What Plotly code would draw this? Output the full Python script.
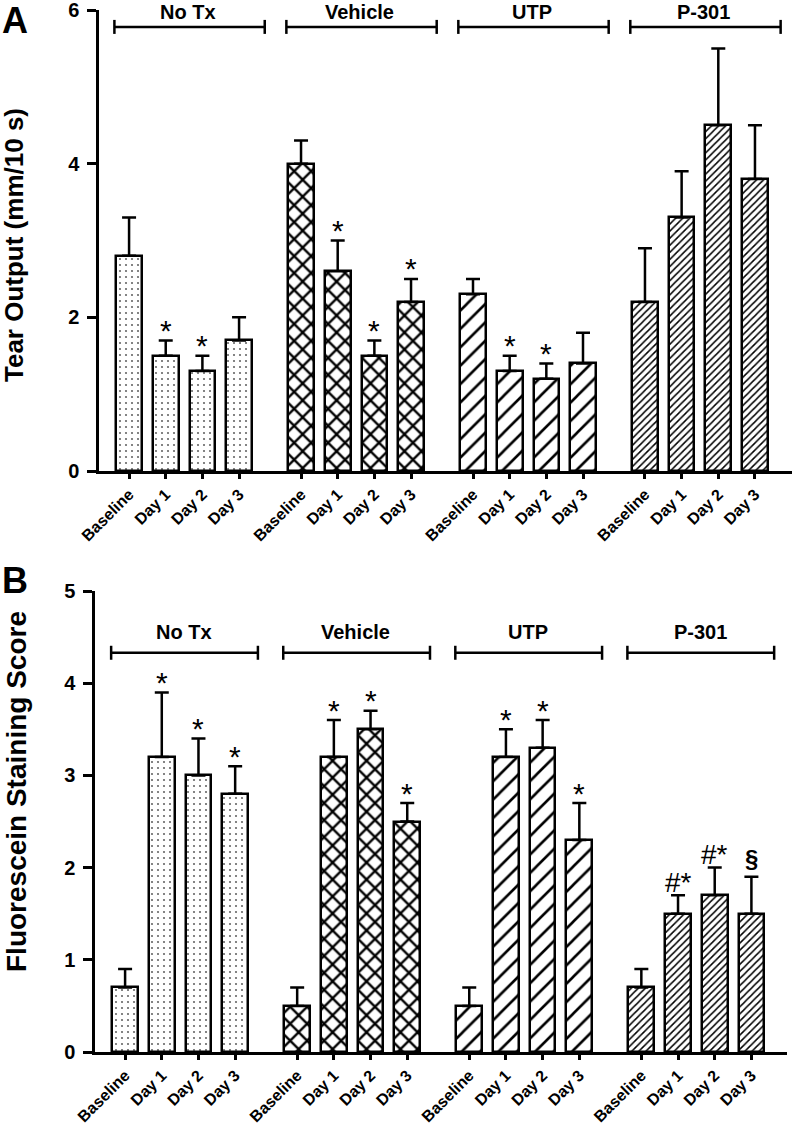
import plotly.graph_objects as go

# ---------------- data ----------------
days = ["Baseline", "Day 1", "Day 2", "Day 3"]
groups = ["No Tx", "Vehicle", "UTP", "P-301"]

# Panel A: Tear output (mm/10 s)
tear_mean = [
    [2.8, 1.5, 1.3, 1.7],   # No Tx
    [4.0, 2.6, 1.5, 2.2],   # Vehicle
    [2.3, 1.3, 1.2, 1.4],   # UTP
    [2.2, 3.3, 4.5, 3.8],   # P-301
]
tear_err = [
    [0.5, 0.2, 0.2, 0.3],
    [0.3, 0.4, 0.2, 0.3],
    [0.2, 0.2, 0.2, 0.4],
    [0.7, 0.6, 1.0, 0.7],
]
tear_marks = [
    ["", "*", "*", ""],
    ["", "*", "*", "*"],
    ["", "*", "*", ""],
    ["", "", "", ""],
]

# Panel B: Fluorescein staining score
stain_mean = [
    [0.7, 3.2, 3.0, 2.8],
    [0.5, 3.2, 3.5, 2.5],
    [0.5, 3.2, 3.3, 2.3],
    [0.7, 1.5, 1.7, 1.5],
]
stain_err = [
    [0.2, 0.7, 0.4, 0.3],
    [0.2, 0.4, 0.2, 0.2],
    [0.2, 0.3, 0.3, 0.4],
    [0.2, 0.2, 0.3, 0.4],
]
stain_marks = [
    ["", "*", "*", "*"],
    ["", "*", "*", "*"],
    ["", "*", "*", "*"],
    ["", "#*", "#*", "§"],
]

# ---------------- style ----------------
FONT = "Liberation Sans, Arial, Helvetica, sans-serif"
GROUP_STEP = 4.69
BAR_W = 0.7
LW = 2.5
patterns = [
    dict(shape=".", size=6, solidity=0.1, fgcolor="black", fgopacity=0.6,
         bgcolor="white", fillmode="overlay"),
    dict(shape="x", size=12, solidity=0.35, fgcolor="black", fgopacity=1,
         bgcolor="white", fillmode="overlay"),
    dict(shape="/", size=13, solidity=0.2, fgcolor="black", fgopacity=1,
         bgcolor="white", fillmode="overlay"),
    dict(shape="/", size=5, solidity=0.3, fgcolor="black", fgopacity=1,
         bgcolor="white", fillmode="overlay"),
]
mark_style = {
    "*": dict(size=30, weight="normal", shift=10),
    "#*": dict(size=28, weight="normal", shift=13),
    "§": dict(size=24, weight="bold", shift=18),
}

def positions(g):
    return [g * GROUP_STEP + i for i in range(len(days))]

fig = go.Figure()
annotations = []
shapes = []

panels = [
    dict(mean=tear_mean, err=tear_err, marks=tear_marks, xa="x", ya="y",
         bracket_y=5.78, label_shift=15, bl=-0.4, br=0.7),
    dict(mean=stain_mean, err=stain_err, marks=stain_marks, xa="x2", ya="y2",
         bracket_y=4.33, label_shift=21, bl=-0.38, br=0.62),
]

for p in panels:
    for g in range(len(groups)):
        xs = positions(g)
        fig.add_trace(go.Bar(
            x=xs, y=p["mean"][g], width=BAR_W,
            xaxis=p["xa"], yaxis=p["ya"],
            marker=dict(color="white", pattern=patterns[g],
                        line=dict(color="black", width=LW)),
            error_y=dict(type="data", symmetric=False, array=p["err"][g],
                         arrayminus=[0] * len(days), color="black",
                         thickness=LW, width=7),
            showlegend=False, hoverinfo="skip",
        ))
        # significance markers
        for i, m in enumerate(p["marks"][g]):
            if m:
                st = mark_style[m]
                annotations.append(dict(
                    x=xs[i], y=p["mean"][g][i] + p["err"][g][i],
                    xref=p["xa"], yref=p["ya"], text=m, showarrow=False,
                    yanchor="middle", yshift=st["shift"],
                    font=dict(family=FONT, size=st["size"], color="black",
                              weight=st["weight"]),
                ))
        # group bracket
        x0 = xs[0] + p["bl"]
        x1 = xs[-1] + p["br"]
        yb = p["bracket_y"]
        shapes.append(dict(type="line", xref=p["xa"], yref=p["ya"],
                           x0=x0, x1=x1, y0=yb, y1=yb,
                           line=dict(color="black", width=LW)))
        for xe in (x0, x1):
            shapes.append(dict(type="line", xref=p["xa"], yref=p["ya"],
                               ysizemode="pixel", yanchor=yb,
                               x0=xe, x1=xe, y0=-7, y1=7,
                               line=dict(color="black", width=LW)))
        annotations.append(dict(
            x=(xs[0] + xs[-1]) / 2 + 0.1, y=yb, xref=p["xa"], yref=p["ya"],
            text=groups[g], showarrow=False, yanchor="middle",
            yshift=p["label_shift"],
            font=dict(family=FONT, size=20, color="black", weight="bold"),
        ))

all_pos = [x for g in range(len(groups)) for x in positions(g)]
all_days = days * len(groups)

xcommon = dict(tickmode="array", tickvals=all_pos, ticktext=all_days,
               tickangle=-45, ticks="outside", ticklen=5, tickwidth=LW,
               tickcolor="black", showline=True, linewidth=LW, linecolor="black",
               showgrid=False, zeroline=False, automargin=False,
               ticklabeloverflow="allow",
               tickfont=dict(family=FONT, size=16, color="black", weight="bold"))
ycommon = dict(ticks="outside", ticklen=9, tickwidth=LW, tickcolor="black",
               showline=True, linewidth=LW, linecolor="black",
               showgrid=False, zeroline=False, ticklabelstandoff=4,
               automargin=False, ticklabeloverflow="allow",
               tickfont=dict(family=FONT, size=20, color="black", weight="bold"))

fig.update_layout(
    width=792, height=1124,
    margin=dict(l=0, r=0, t=0, b=0, autoexpand=False),
    paper_bgcolor="white", plot_bgcolor="white",
    bargap=0,
    xaxis=dict(domain=[99 / 792, 1.0], range=[-0.82, 18.08], anchor="y", **xcommon),
    yaxis=dict(domain=[1 - 471 / 1124, 1 - 10 / 1124], range=[0, 6],
               tickvals=[0, 2, 4, 6], anchor="x", **ycommon),
    xaxis2=dict(domain=[95 / 792, 787 / 792], range=[-0.82, 18.04], anchor="y2", **xcommon),
    yaxis2=dict(domain=[1 - 1052 / 1124, 1 - 591 / 1124], range=[0, 5],
                tickvals=[0, 1, 2, 3, 4, 5], anchor="x2", **ycommon),
    shapes=shapes,
)

# axis titles and panel letters
annotations += [
    dict(x=14 / 792, y=1 - 245 / 1124, xref="paper", yref="paper",
         text="Tear Output (mm/10 s)", textangle=-90, showarrow=False,
         xanchor="center", yanchor="middle",
         font=dict(family=FONT, size=26, color="black", weight="bold")),
    dict(x=16 / 792, y=1 - 792 / 1124, xref="paper", yref="paper",
         text="Fluorescein Staining Score", textangle=-90, showarrow=False,
         xanchor="center", yanchor="middle",
         font=dict(family=FONT, size=28, color="black", weight="bold")),
    dict(x=0, y=1 - 21 / 1124, xref="paper", yref="paper", text="A",
         showarrow=False, xanchor="left", yanchor="middle",
         font=dict(family=FONT, size=36, color="black", weight="bold")),
    dict(x=0, y=1 - 580 / 1124, xref="paper", yref="paper", text="B",
         showarrow=False, xanchor="left", yanchor="middle",
         font=dict(family=FONT, size=36, color="black", weight="bold")),
]
fig.update_layout(annotations=annotations)

fig.write_html("out.html", config={"displayModeBar": False},
               post_script="document.body.style.margin='0px';document.body.style.overflow='hidden';")
